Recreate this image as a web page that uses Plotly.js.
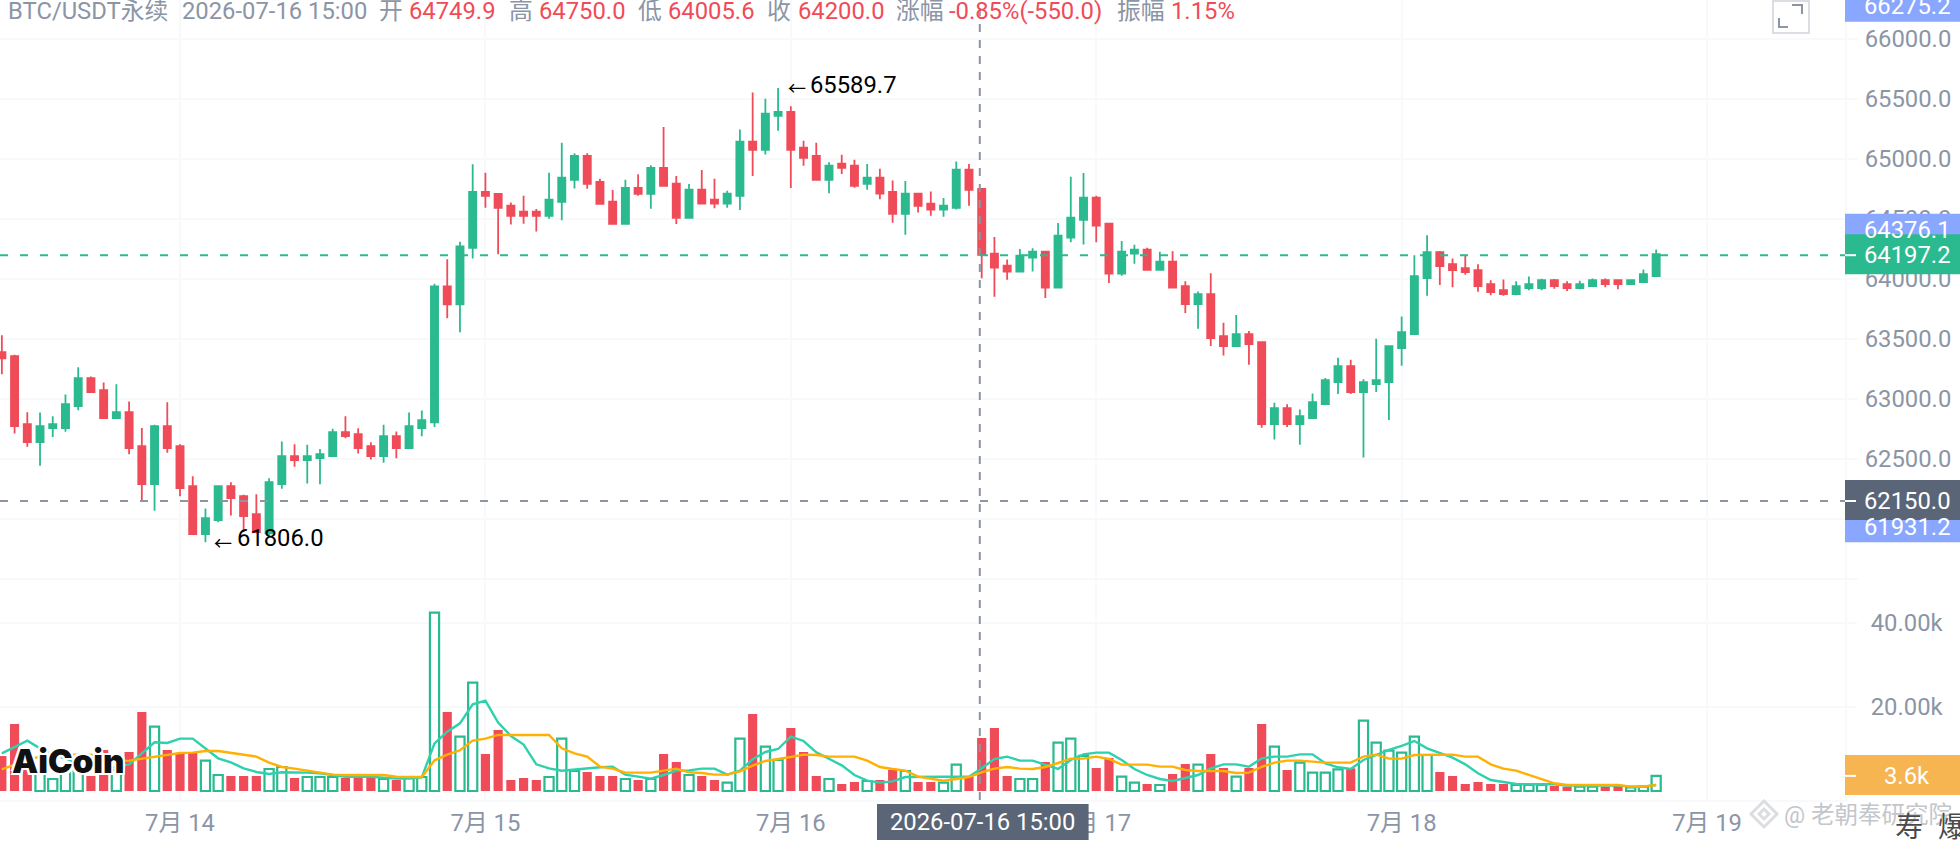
<!DOCTYPE html>
<html><head><meta charset="utf-8">
<script src="https://cdn.plot.ly/plotly-3.0.1.min.js"></script>
<style>html,body{margin:0;padding:0;background:#fff;overflow:hidden}#c{width:1960px;height:842px}</style>
</head><body><div id="c"></div>
<script>
// hourly bars, first bar 2026-07-13 10:00
const open=[63389,63356,62790,62640,62757,62757,62940,63173,63073,62840,
62890,62607,62290,62773,62607,62274,61874,61991,62274,62190,
62041,61880,62290,62523,62490,62507,62523,62723,62706,62607,
62523,62690,62590,62757,62806,63938,63788,64259,64725,64708,
64609,64559,64559,64525,64642,64825,65025,64808,64642,64459,
64758,64708,64925,64792,64509,64742,64659,64626,64692,65142,
65075,65358,65391,65092,65025,64825,64959,64942,64792,64842,
64725,64542,64709,64626,64576,64592,64909,64749.9,64210,64110,
64060,64176,64226,63927,64343,64492,64676,64459,64043,64210,
64243,64076,64143,63939,63790,63873,63523,63440,63540,63473,
62791,62924,62791,62841,62957,63140,63274,63057,63124,63140,
63423,63540,64006,64222,64122,64089,64072,63956,63906,63873,
63923,63923,63989,63956,63923,63939,63989,63989,63956,63973,
64022];
const close=[63339,62773,62640,62773,62790,62956,63173,63056,62840,62890,
62590,62290,62773,62590,62257,61874,62007,62274,62174,62024,
61891,62307,62523,62490,62523,62540,62723,62690,62590,62523,
62690,62590,62773,62823,63938,63788,64271,64725,64692,64592,
64525,64525,64525,64659,64842,65025,64792,64625,64459,64758,
64708,64925,64775,64509,64742,64626,64626,64709,65142,65075,
65375,65391,65075,65008,64825,64942,64925,64775,64842,64709,
64542,64709,64609,64576,64609,64909,64742,64200,64093,64060,
64193,64226,63927,64359,64509,64676,64443,64043,64226,64243,
64076,64143,63927,63790,63873,63507,63440,63540,63457,62791,
62924,62791,62857,62974,63157,63274,63057,63140,63157,63440,
63557,64022,64222,64106,64072,64056,63939,63889,63873,63939,
63956,63989,63939,63923,63956,63989,63956,63956,63989,64039,
64206];
const high=[63531,63367,62890,62887,62856,63037,63264,63186,63137,63123,
62978,62759,62784,62973,62623,62357,62088,62274,62307,62202,
62207,62340,62645,62623,62618,62584,62751,62856,62756,62640,
62784,62729,62887,62904,63960,64163,64310,64955,64883,64708,
64636,64692,64581,64883,65133,65047,65047,64833,64739,64825,
64872,64947,65264,64856,64789,64906,64834,64734,65244,65552,
65499,65589.7,65438,65150,65133,64972,65033,64992,64956,64917,
64820,64814,64709,64728,64673,64978,64956,64750,64348,64162,
64248,64254,64226,64465,64850,64881,64692,64459,64315,64284,
64259,64226,64229,63981,63895,64047,63634,63698,63565,63473,
62968,62955,62913,63046,63174,63343,63326,63163,63501,63440,
63687,64197,64364,64231,64170,64197,64122,63989,63995,63981,
64020,64000,63998,63981,63984,64003,64003,63989,63995,64078,
64244];
const low=[63206,62712,62601,62443,62684,62726,62906,63056,62840,62840,
62540,62152,62068,62551,62190,61874,61806,61974,62030,61891,
61880,61852,62252,62435,62296,62290,62518,62673,62546,62496,
62468,62507,62584,62690,62767,63672,63555,64170,64592,64204,
64453,64459,64395,64500,64489,64753,64750,64622,64459,64459,
64692,64584,64775,64456,64509,64626,64587,64592,64573,64856,
65036,65233,64756,64942,64823,64712,64873,64759,64742,64664,
64467,64368,64553,64526,64517,64578,64609,64005.6,63852,63993,
64054,64062,63841,63927,64304,64287,64304,63965,64026,64126,
64076,64076,63927,63715,63584,63440,63362,63440,63285,62760,
62663,62766,62619,62835,62957,63041,63041,62513,63057,62824,
63276,63540,63859,63948,63931,64034,63892,63864,63859,63864,
63906,63906,63917,63898,63914,63939,63931,63914,63956,63973,
64022];
const volume=[8340,15960,6000,5500,2860,5000,5500,3570,9770,5000,
9290,18820,15320,9770,8810,9290,7225,3810,3570,3570,
3570,5240,5720,3100,3330,3330,3330,3100,3100,3100,
2860,2620,3100,3330,42480,18820,12940,25800,8810,14530,
2620,3100,2620,3330,12470,4760,4530,3570,3570,2860,
2620,2860,8810,6900,3810,3570,2620,1985,12470,18340,
10560,7380,15000,9290,3570,2860,1670,2140,2380,2620,
5000,4760,2140,2140,1985,6270,3410,12620,15000,3570,
2860,2860,6900,11510,12470,8340,5480,7860,3410,1985,
1670,1430,4050,6430,6270,8810,5480,3410,5480,15960,
10560,5000,6750,4370,4370,5160,5400,16750,11510,9610,
9130,12940,8575,4530,3570,1670,2140,1670,1670,1430,
1430,1430,1190,1030,1030,1030,1030,1190,870,1030,
3600];
const volMaShort=[8970,10560,11990,10160,8575,7780,6590,5000,4840,5800,
6350,8970,11590,11430,12470,12470,10160,7780,6830,5400,
4530,4050,4450,4450,4370,4210,3890,3410,3410,3410,
3180,2940,2940,3260,11350,14130,16120,20640,21520,16280,
13100,11040,6350,5400,4840,5160,5320,5640,5800,3890,
3410,2940,3810,4840,4920,5320,5320,3890,4840,7540,
9290,10000,12940,11910,9210,7700,6110,3810,2460,1985,
2300,3330,3410,3410,3410,3410,3410,5400,7620,8180,
7230,7230,6190,5240,7380,8730,9130,9130,7380,5240,
3810,2860,2380,3020,3810,5400,6350,6350,5800,7780,
8180,8180,8730,8730,6590,5640,5240,7380,8575,9770,
10720,11910,10160,9130,7940,6350,4210,2620,2060,1670,
1590,1590,1590,1270,1270,1270,1270,1270,1030,1030,
1430];
const volMaLong=[5160,6190,7380,8180,8575,8650,8650,8650,8340,7150,
7230,7700,8180,8650,9050,9130,9530,9530,9130,8650,
8180,6750,5720,5320,4840,4450,3890,3810,3810,3810,
3810,3410,3330,3330,7300,8650,9690,11990,12470,13340,
13340,13340,13340,13340,10160,8970,8180,5800,5320,4370,
4370,4370,4840,5320,4450,4290,3890,3890,4680,6030,
7150,7540,8100,8650,8575,8180,8180,8180,7230,5720,
5240,4840,3410,2860,2460,2860,3330,4450,5320,5720,
5320,5240,5720,6670,7700,7700,8180,7620,6270,6270,
6270,5800,5800,5000,4760,4760,4760,4290,4370,5720,
6750,7230,7230,6990,6750,6750,6750,8180,8650,7700,
7700,8575,8650,8650,8650,8180,8180,6350,5320,4840,
3810,2860,1830,1430,1430,1430,1430,1430,1030,1030,
1430];
const dayTicks=[0,24,48,72,96,120];               // hours after 2026-07-14 00:00
const dayLabels=['7月 14','7月 15','7月 16','7月 17','7月 18','7月 19'];
const priceTicks=[61500,62000,62500,63000,63500,64000,64500,65000,65500,66000];
const priceLabels=['','62000.0','62500.0','63000.0','63500.0','64000.0','64500.0','65000.0','65500.0','66000.0'];
const volTicks=[20000,40000];
const volLabels=['20.00k','40.00k'];

const GREEN='#2bba8f',RED='#f04b58',GREY='#8b95a6',BLUE='#8aa7ff',SLATE='#5a6678',AMBER='#f6b551',GRID='#f8f9fb';
const FONT="Roboto, 'Noto Sans CJK SC', sans-serif";
const FS=23.8;
const hours=open.map((_,i)=>i-14);
const isUp=open.map((o,i)=>close[i]>=o);

const traces=[
 {type:'bar',x:hours,y:volume,yaxis:'y2',width:0.72,
  marker:{color:isUp.map(u=>u?'rgba(255,255,255,0)':RED),
          line:{color:isUp.map(u=>u?GREEN:RED),width:isUp.map(u=>u?2.2:0)}}},
 {type:'scatter',mode:'lines',x:hours,y:volMaShort,yaxis:'y2',line:{color:'#2dd1ad',width:2.4}},
 {type:'scatter',mode:'lines',x:hours,y:volMaLong,yaxis:'y2',line:{color:'#ffb000',width:2.4}},
 {type:'candlestick',x:hours,open:open,high:high,low:low,close:close,whiskerwidth:0,
  increasing:{line:{color:GREEN,width:1.8},fillcolor:GREEN},
  decreasing:{line:{color:RED,width:1.8},fillcolor:RED}}
];

const W=1845,H=800;
const px=x=>x/W, py=y=>1-y/H;
const PXR=1+115/W;
function priceBox(val,color,top,bot,yref){
 return {type:'rect',xref:'paper',x0:1,x1:PXR,yref:yref||'y',ysizemode:'pixel',yanchor:val,y0:-bot,y1:-top,fillcolor:color,line:{width:0}};
}
function whiteTick(val,yref){return {type:'line',xref:'paper',x0:1,x1:1+11/W,yref:yref||'y',y0:val,y1:val,line:{color:'#fff',width:2}};}
function dia(cx,cy,r){return `M ${px(cx)} ${py(cy-r)} L ${px(cx+r)} ${py(cy)} L ${px(cx)} ${py(cy+r)} L ${px(cx-r)} ${py(cy)} Z`;}
const shapes=[
 {type:'line',xref:'x',yref:'paper',x0:62.85,x1:62.85,y0:0,y1:1,line:{color:GREY,width:2,dash:'8px,8px'}},
 {type:'line',xref:'paper',yref:'y',x0:0,x1:1,y0:64197.2,y1:64197.2,line:{color:GREEN,width:2,dash:'8px,12px'}},
 {type:'line',xref:'paper',yref:'y',x0:0,x1:1,y0:62150,y1:62150,line:{color:GREY,width:2,dash:'8px,12px'}},
 priceBox(66275.2,BLUE,-15,16),
 priceBox(64376.1,BLUE,-20,16),
 priceBox(61931.2,BLUE,-15,15),
 priceBox(64197.2,GREEN,-21,19),
 priceBox(62150,SLATE,-21,19),
 priceBox(3600,AMBER,-21,19,'y2'),
 whiteTick(64197.2),whiteTick(62150),whiteTick(3600,'y2'),
 // time tag on the crosshair
 {type:'rect',xref:'paper',yref:'paper',x0:px(877),x1:px(1088.6),y0:py(840),y1:py(804),fillcolor:SLATE,line:{width:0}},
 // expand icon
 {type:'rect',xref:'paper',yref:'paper',x0:px(1773),x1:px(1809),y0:py(33),y1:py(1),fillcolor:'rgba(0,0,0,0)',line:{color:'#dcdde2',width:2}},
 {type:'path',xref:'paper',yref:'paper',path:`M ${px(1792)} ${py(5)} L ${px(1802)} ${py(5)} L ${px(1802)} ${py(14)}`,line:{color:GREY,width:2}},
 {type:'path',xref:'paper',yref:'paper',path:`M ${px(1779)} ${py(18)} L ${px(1779)} ${py(27)} L ${px(1788)} ${py(27)}`,line:{color:GREY,width:2}},
 // watermark logo
 {type:'path',xref:'paper',yref:'paper',path:dia(1764,814,13),line:{color:'#dcdde0',width:3}},
 {type:'path',xref:'paper',yref:'paper',path:dia(1764,814,5),line:{color:'#dcdde0',width:3}}
];
function head(x,t,c){return {xref:'paper',yref:'paper',x:px(x),y:py(11),xanchor:'left',yanchor:'middle',text:t,showarrow:false,font:{family:FONT,size:FS,color:c||GREY}};}
function boxText(val,t,yref,dy){return {xref:'paper',x:1+62/W,yref:yref||'y',y:val,yshift:dy||0,xanchor:'center',yanchor:'middle',text:t,showarrow:false,font:{family:FONT,size:FS,color:'#fff'}};}
function blackText(x,y,t,s){return {xref:'paper',yref:'paper',x:px(x),y:py(y),xanchor:'left',yanchor:'middle',text:t,showarrow:false,font:{family:FONT,size:s||FS,color:'#000'}};}
const annotations=[
 head(6,'BTC/USDT永续'),head(180,'2026-07-16 15:00'),
 head(377,'开'),head(407,'64749.9',RED),
 head(507,'高'),head(536.5,'64750.0',RED),
 head(636,'低'),head(666,'64005.6',RED),
 head(765,'收'),head(795.5,'64200.0',RED),
 head(894,'涨幅'),head(947,'-0.85%(-550.0)',RED),
 head(1115,'振幅'),head(1169,'1.15%',RED),
 boxText(66275.2,'66275.2'),boxText(64376.1,'64376.1','y',4),boxText(61931.2,'61931.2'),
 boxText(64197.2,'64197.2'),boxText(62150,'62150.0'),boxText(3600,'3.6k','y2'),
 {xref:'paper',yref:'paper',x:px(983),y:py(822),xanchor:'center',yanchor:'middle',text:'2026-07-16 15:00',showarrow:false,font:{family:FONT,size:FS,color:'#fff'}},
 blackText(786,89,'←',18),blackText(808,85,'65589.7'),
 blackText(212,543,'←',18),blackText(235,538,'61806.0'),
 {xref:'paper',yref:'paper',x:px(10),y:py(761),xanchor:'left',yanchor:'middle',text:'AiCoin',showarrow:false,
  font:{family:"Inter, Roboto, sans-serif",size:33,weight:900,color:'#111',shadow:'-2px -2px 0 #fff, 2px -2px 0 #fff, -2px 2px 0 #fff, 2px 2px 0 #fff'}},
 {xref:'paper',yref:'paper',x:px(1782),y:py(815),xanchor:'left',yanchor:'middle',text:'@ 老朝奉研究院',showarrow:false,font:{family:FONT,size:23.5,color:'#c3c6cb'}},
 {xref:'paper',yref:'paper',x:px(1893),y:py(827),xanchor:'left',yanchor:'middle',text:'寿',showarrow:false,font:{family:FONT,size:28,color:'#4a4a4a'}},
 {xref:'paper',yref:'paper',x:px(1936),y:py(827),xanchor:'left',yanchor:'middle',text:'爆',showarrow:false,font:{family:FONT,size:28,color:'#4a4a4a'}}
];
const layout={
 width:1960,height:842,paper_bgcolor:'#fff',plot_bgcolor:'#fff',showlegend:false,
 margin:{l:0,r:115,t:0,b:42,pad:0},boxgap:0.2,barmode:'overlay',
 hovermode:false,dragmode:false,
 xaxis:{type:'linear',range:[-14.145,130.84],tickmode:'array',tickvals:dayTicks,ticktext:dayLabels,
  tickfont:{family:FONT,size:FS,color:GREY},showgrid:true,gridcolor:GRID,gridwidth:2,ticks:'',zeroline:false,
  showline:true,linecolor:GRID,linewidth:2,rangeslider:{visible:false},fixedrange:true,automargin:false},
 yaxis:{range:[59660,66322.3],side:'right',tickmode:'array',tickvals:priceTicks,ticktext:priceLabels,
  tickfont:{family:FONT,size:FS,color:GREY},showgrid:true,gridcolor:GRID,gridwidth:2,ticks:'outside',ticklen:11,tickwidth:2,tickcolor:GRID,
  ticklabelstandoff:2,zeroline:false,showline:true,linecolor:GRID,linewidth:2,fixedrange:true,automargin:false},
 yaxis2:{range:[-2143,188333],side:'right',overlaying:'y',tickmode:'array',tickvals:volTicks,ticktext:volLabels,
  tickfont:{family:FONT,size:FS,color:GREY},showgrid:true,gridcolor:GRID,gridwidth:2,ticks:'outside',ticklen:11,tickwidth:2,tickcolor:GRID,
  ticklabelstandoff:9,zeroline:false,fixedrange:true,automargin:false},
 shapes:shapes,annotations:annotations
};
Plotly.newPlot('c',traces,layout,{displayModeBar:false,staticPlot:true});
</script></body></html>
